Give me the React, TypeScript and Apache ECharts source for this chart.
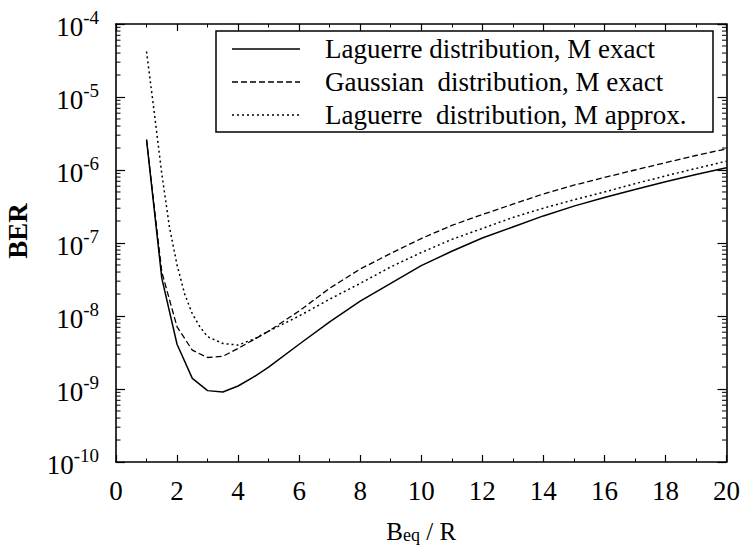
import React, { useEffect, useRef } from "react";
import * as echarts from "echarts";

// B_eq / R sample positions
const xExact = [1, 1.5, 2, 2.5, 3, 3.5, 4, 4.5, 5, 6, 7, 8, 9, 10, 11, 12, 13, 14, 15, 16, 17, 18, 19, 20];
const xApprox = [1, 1.25, 1.5, 1.75, 2, 2.25, 2.5, 2.75, 3, 3.5, 4, 4.5, 5, 6, 7, 8, 9, 10, 11, 12, 13, 14, 15, 16, 17, 18, 19, 20];

// BER values
const berLaguerreExact = [
  2.6e-6, 3.3e-8, 4.1e-9, 1.4e-9, 9.5e-10, 9.1e-10, 1.1e-9, 1.45e-9, 2.0e-9, 4.1e-9, 8.3e-9, 1.6e-8,
  2.8e-8, 4.9e-8, 7.7e-8, 1.17e-7, 1.66e-7, 2.35e-7, 3.2e-7, 4.2e-7, 5.4e-7, 6.9e-7, 8.7e-7, 1.07e-6,
];
const berGaussianExact = [
  2.6e-6, 4.0e-8, 7.1e-9, 3.4e-9, 2.7e-9, 2.8e-9, 3.6e-9, 4.7e-9, 6.2e-9, 1.17e-8, 2.4e-8, 4.4e-8,
  7.2e-8, 1.15e-7, 1.74e-7, 2.45e-7, 3.4e-7, 4.7e-7, 6.2e-7, 7.9e-7, 1.0e-6, 1.26e-6, 1.58e-6, 1.95e-6,
];
const berLaguerreApprox = [
  4.2e-5, 6.3e-6, 8.9e-7, 1.66e-7, 5.0e-8, 2.0e-8, 1.07e-8, 7.1e-9, 5.2e-9, 4.2e-9, 4.0e-9, 4.8e-9,
  6.2e-9, 1.0e-8, 1.7e-8, 2.8e-8, 4.7e-8, 7.4e-8, 1.12e-7, 1.58e-7, 2.24e-7, 3.0e-7, 3.9e-7, 5.0e-7,
  6.5e-7, 8.3e-7, 1.05e-6, 1.32e-6,
];

const seriesNames = [
  "Laguerre distribution, M exact",
  "Gaussian  distribution, M exact",
  "Laguerre  distribution, M approx.",
];

// log-axis minor tick positions
const decades = [-10, -9, -8, -7, -6, -5];
const minorMultipliers = [2, 3, 4, 5, 6, 7, 8, 9];

const FONT = "Liberation Serif";

export default function App() {
  const ref = useRef<HTMLDivElement>(null);

  useEffect(() => {
    document.body.style.margin = "0";
    const chart = echarts.init(ref.current!, null, { renderer: "svg" });

    const minorVals = decades.flatMap((d) => minorMultipliers.map((m) => m * Math.pow(10, d)));
    const axisLine = { show: true, onZero: false, lineStyle: { color: "#000", width: 1.6 } };
    const xTick = { show: true, inside: true, length: 7, lineStyle: { color: "#000", width: 1.2 } };
    const xMinor = { show: true, splitNumber: 2, length: 3.5, lineStyle: { color: "#000", width: 1 } };
    const yTick = { show: true, inside: true, length: 9, lineStyle: { color: "#000", width: 1.2 } };

    const dashTypes: any[] = ["solid", [6, 3], [2, 3]];
    const lineWidths = [1.5, 1.3, 1.5];

    const legendLeft = 216;
    const legendTop = 31;
    const rows = [49, 82, 115];

    const graphic: any[] = [
      {
        type: "text",
        x: 18,
        y: 231,
        rotation: Math.PI / 2,
        style: {
          text: "BER",
          fontFamily: FONT,
          fontSize: 27,
          fontWeight: "bold",
          fill: "#000",
          align: "center",
          verticalAlign: "middle",
        },
      },
      {
        type: "rect",
        z: 100,
        shape: { x: legendLeft, y: legendTop, width: 497, height: 101 },
        style: { fill: "#fff", stroke: "#000", lineWidth: 1.5 },
      },
    ];
    seriesNames.forEach((name, i) => {
      graphic.push({
        type: "line",
        z: 101,
        shape: { x1: 232, y1: rows[i], x2: 300, y2: rows[i] },
        style: {
          stroke: "#000",
          lineWidth: lineWidths[i],
          lineDash: i === 0 ? null : dashTypes[i],
        },
      });
      graphic.push({
        type: "text",
        z: 101,
        x: 325,
        y: rows[i],
        style: {
          text: name,
          fontFamily: FONT,
          fontSize: 27,
          fill: "#000",
          align: "left",
          verticalAlign: "middle",
        },
      });
    });

    const dataSets = [
      xExact.map((x, i) => [x, berLaguerreExact[i]]),
      xExact.map((x, i) => [x, berGaussianExact[i]]),
      xApprox.map((x, i) => [x, berLaguerreApprox[i]]),
    ];

    const option: any = {
      animation: false,
      textStyle: { fontFamily: FONT },
      grid: { left: 116, right: 14, top: 24, bottom: 86, containLabel: false },
      xAxis: [
        {
          type: "value",
          min: 0,
          max: 20,
          interval: 2,
          position: "bottom",
          axisLine,
          axisTick: xTick,
          minorTick: xMinor,
          splitLine: { show: false },
          axisLabel: { margin: 15, fontFamily: FONT, fontSize: 27, color: "#000" },
          name: "{a|B}{b|eq}{a| / R}",
          nameLocation: "middle",
          nameGap: 52,
          nameTextStyle: {
            fontFamily: FONT,
            rich: {
              a: { fontFamily: FONT, fontSize: 25, color: "#000", lineHeight: 30, verticalAlign: "bottom" },
              b: { fontFamily: FONT, fontSize: 18, color: "#000", lineHeight: 16, verticalAlign: "bottom" },
            },
          },
        },
        {
          type: "value",
          min: 0,
          max: 20,
          interval: 2,
          position: "top",
          axisLine,
          axisTick: xTick,
          minorTick: xMinor,
          splitLine: { show: false },
          axisLabel: { show: false },
        },
      ],
      yAxis: [
        {
          type: "log",
          logBase: 10,
          min: 1e-10,
          max: 1e-4,
          splitNumber: 6,
          position: "left",
          axisLine,
          axisTick: yTick,
          splitLine: { show: false },
          axisLabel: {
            margin: 17,
            fontFamily: FONT,
            formatter: (v: number) => `{b|10}{s|${Math.round(Math.log10(v))}}`,
            rich: {
              b: { fontFamily: FONT, fontSize: 27, color: "#000", lineHeight: 32, verticalAlign: "bottom", padding: [6, 0, 0, 0] },
              s: { fontFamily: FONT, fontSize: 19, color: "#000", lineHeight: 19, verticalAlign: "top" },
            },
          },
        },
        {
          type: "log",
          logBase: 10,
          min: 1e-10,
          max: 1e-4,
          splitNumber: 6,
          position: "right",
          axisLine,
          axisTick: yTick,
          splitLine: { show: false },
          axisLabel: { show: false },
        },
      ],
      series: [
        ...dataSets.map((d, i) => ({
          name: seriesNames[i],
          type: "line",
          xAxisIndex: 0,
          yAxisIndex: 0,
          data: d,
          showSymbol: false,
          symbol: "none",
          smooth: false,
          lineStyle: { color: "#000", width: lineWidths[i], type: dashTypes[i] },
          z: 3,
        })),
        {
          type: "custom",
          xAxisIndex: 0,
          yAxisIndex: 0,
          silent: true,
          clip: false,
          data: minorVals.map((v) => [0, v]),
          encode: { x: 0, y: 1 },
          renderItem: (_p: any, api: any) => {
            const v = api.value(1);
            const l = api.coord([0, v]);
            const r = api.coord([20, v]);
            const st = { stroke: "#000", lineWidth: 1 };
            return {
              type: "group",
              children: [
                { type: "line", shape: { x1: l[0], y1: l[1], x2: l[0] + 4.5, y2: l[1] }, style: st },
                { type: "line", shape: { x1: r[0], y1: r[1], x2: r[0] - 4.5, y2: r[1] }, style: st },
              ],
            };
          },
        },
      ],
      graphic,
    };

    chart.setOption(option);
    return () => chart.dispose();
  }, []);

  return (
    <div
      ref={ref}
      style={{ position: "fixed", left: 0, top: 0, width: 743, height: 549, background: "#fff" }}
    />
  );
}
